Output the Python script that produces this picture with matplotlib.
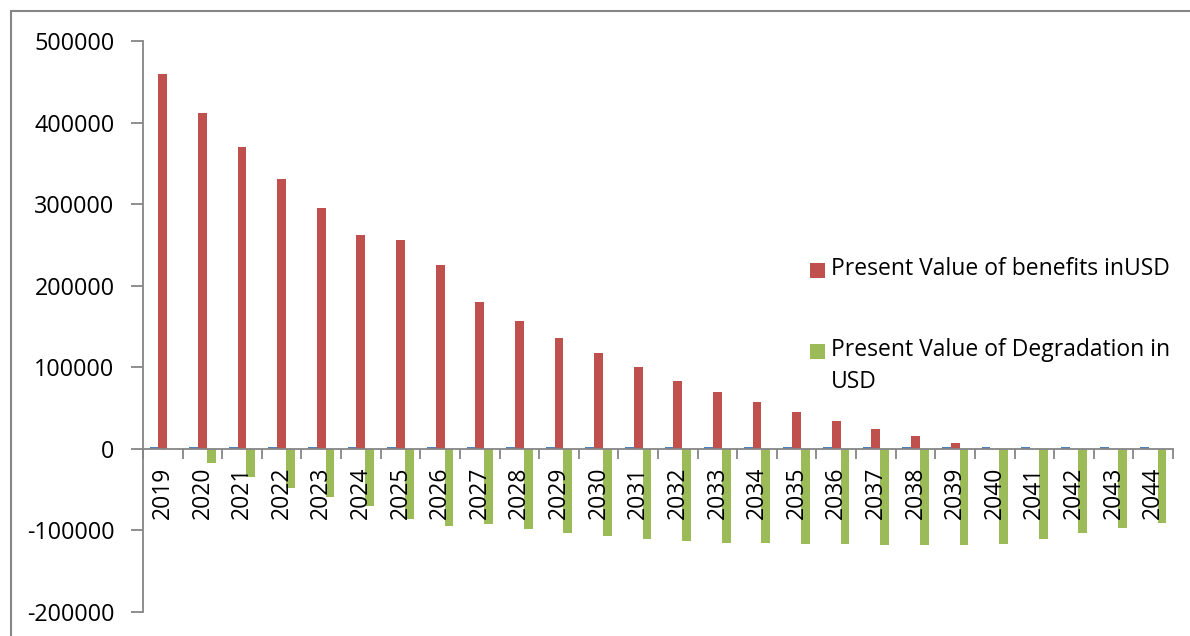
import numpy as np
import matplotlib
matplotlib.use("Agg")
import matplotlib.pyplot as plt
from matplotlib.patches import Rectangle

plt.rcParams['font.family'] = ['Open Sans', 'DejaVu Sans']

years = [2019, 2020, 2021, 2022, 2023, 2024, 2025, 2026, 2027, 2028, 2029, 2030, 2031,
         2032, 2033, 2034, 2035, 2036, 2037, 2038, 2039, 2040, 2041, 2042, 2043, 2044]
benefits = [459000, 412000, 370000, 330500, 295000, 262000, 256000, 225000, 180000,
            157000, 136000, 117500, 100000, 83000, 70000, 57500, 45000, 34000, 24500,
            16000, 7500, 0, 0, 0, 0, 0]
degradation = [0, -17000, -34000, -48000, -59000, -70000, -86000, -94000, -92000,
               -98000, -103000, -106500, -110000, -112500, -115000, -116000, -117000,
               -117000, -118000, -118000, -117500, -117000, -110000, -103000, -97000,
               -90500]
label_benefits = 'Present Value of benefits inUSD'
label_degradation = 'Present Value of Degradation in\nUSD'

BLUE = '#4F81BD'
RED = '#C0504D'
GREEN = '#9BBB59'
AXIS = '#868686'

fig = plt.figure(figsize=(11.9, 6.36), dpi=100)
ax = fig.add_axes([143 / 1190, 1 - 612 / 636, (1173 - 143) / 1190, (612 - 41) / 636])

x = np.arange(len(years))
w = 0.222
ax.bar(x - w, years, w, color=BLUE)
ax.bar(x, benefits, w, color=RED)
ax.bar(x + w, degradation, w, color=GREEN)

ax.set_xlim(-0.5, len(years) - 0.5)
ax.set_ylim(-200000, 500000)
ax.set_yticks(np.arange(-200000, 500001, 100000))
ax.yaxis.set_major_formatter(matplotlib.ticker.FuncFormatter(lambda v, p: f'{int(v)}'))

# category boundaries get the tick marks, labels sit on the centres
ax.set_xticks(np.arange(-0.5, len(years), 1.0))
ax.set_xticklabels([])
ax.set_xticks(x, minor=True)
ax.set_xticklabels([str(y) for y in years], minor=True)
ax.tick_params(axis='x', which='major', length=7, width=1.3, color=AXIS, direction='out')
ax.tick_params(axis='x', which='minor', length=0, pad=13, labelrotation=90, labelsize=16.5)
ax.tick_params(axis='y', length=8.5, width=1.3, color=AXIS, labelsize=16.8, pad=12)

for s in ['top', 'right']:
    ax.spines[s].set_visible(False)
ax.spines['bottom'].set_position(('data', 0))
for s in ['left', 'bottom']:
    ax.spines[s].set_color(AXIS)
    ax.spines[s].set_linewidth(1.3)

# legend drawn by hand in pixel positions
def px(xp, yp):
    return xp / 1190, 1 - yp / 636

for (sq_top, color, text) in [(263, RED, label_benefits), (344, GREEN, label_degradation)]:
    fx, fy = px(810, sq_top + 15)
    fig.add_artist(Rectangle((fx, fy), 15 / 1190, 15 / 636, transform=fig.transFigure,
                             color=color, lw=0))
    tx, ty = px(831, sq_top - 6)
    fig.text(tx, ty, text, fontsize=16.5, va='top', ha='left', linespacing=1.45)

# outer chart border
bx, by = px(11, 660)
fig.add_artist(Rectangle((bx, by), 1.2, (660 - 11) / 636, transform=fig.transFigure,
                         fill=False, edgecolor=AXIS, lw=1.5))

fig.savefig('out.png', dpi=100)
